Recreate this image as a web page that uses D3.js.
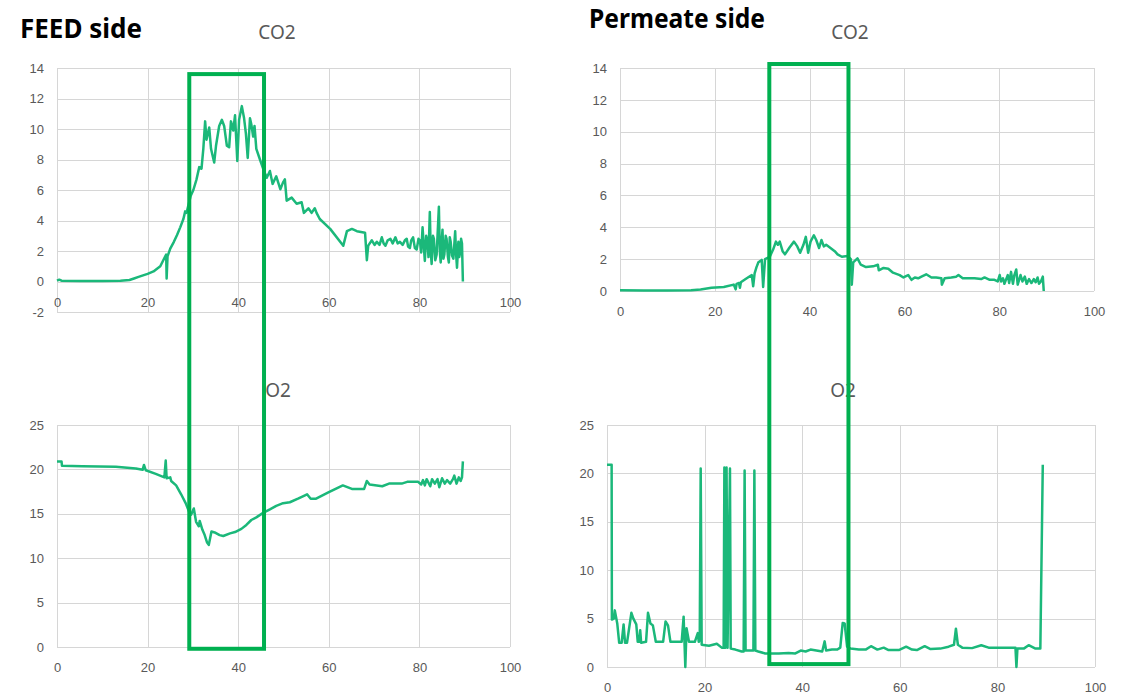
<!DOCTYPE html>
<html>
<head>
    <meta charset="UTF-8">
    <title>FEED / Permeate CO2 O2</title>
    <script src="https://d3js.org/d3.v7.min.js"></script>
    <style>
        body { margin: 0; background: #fff; }
        svg { display: block; font-family: "Noto Sans", "Open Sans", sans-serif; }
        .grid line { stroke: #d6d6d6; stroke-width: 1px; shape-rendering: crispEdges; }
        .grid .domain { display: none; }
        .tick text { fill: #595959; font-size: 13px; }
        .series { fill: none; stroke: #1bb87a; stroke-width: 2.5px; stroke-linejoin: round; }
        .box { fill: none; stroke: #00b050; stroke-width: 4px; }
        .title { fill: #595959; font-size: 19px; text-anchor: middle; }
        .side { fill: #000; font-size: 26px; font-weight: bold; }
    </style>
</head>
<body>
    <div id="chart"></div>
    <script>
        // x = time, y = concentration (%)
        const xTicks = [0, 20, 40, 60, 80, 100];
        const co2FeedTicks = [-2, 0, 2, 4, 6, 8, 10, 12, 14];
        const co2PermTicks = [0, 2, 4, 6, 8, 10, 12, 14];
        const o2Ticks = [0, 5, 10, 15, 20, 25];

        const feedCO2 = [
            [0,0.05],[0.5,0.12],[1,0.05],[5,0.03],[10,0.03],[14,0.05],[16,0.1],[17,0.2],[18,0.3],[19,0.4],
            [20,0.5],[21.3,0.66],[22.8,1.0],[24.1,1.77],[24.2,0.2],[24.4,1.65],[25,2.16],[25.8,2.6],[26.5,3.05],
            [27.2,3.55],[27.9,4.1],[28.3,4.6],[28.6,4.5],[29.5,5.6],[30.1,6.0],[30.8,6.7],[31.4,7.5],[31.9,7.4],
            [32.3,8.7],[32.7,10.5],[33.0,9.3],[33.6,10.1],[34.0,8.7],[34.7,7.8],[35.1,8.9],[35.8,10.2],[36.4,10.6],
            [36.9,10.2],[37.5,8.9],[38.0,8.8],[38.4,10.5],[38.9,9.9],[39.3,10.9],[39.8,7.9],[40.2,10.6],[40.8,11.5],
            [41.3,10.7],[41.7,9.7],[42.1,8.1],[42.6,10.7],[42.9,10.3],[43.3,9.5],[43.6,10.2],[44.0,8.7],[44.8,8.0],
            [45.5,7.4],[46.3,6.8],[47.0,7.25],[47.6,6.4],[48.4,6.9],[49.3,6.05],[49.9,6.5],[50.3,6.7],[50.7,5.3],
            [51.8,5.5],[52.9,5.1],[54.0,5.2],[54.5,4.5],[55.5,4.8],[56.2,4.5],[56.9,4.8],[57.3,4.5],[58.0,4.1],
            [60.3,3.45],[63.2,2.35],[64.0,3.3],[65.1,3.45],[66.2,3.3],[68.0,3.2],[68.4,1.4],[68.7,2.35],[69.5,2.7],
            [70.1,2.4],[70.6,2.6],[71.2,2.4],[71.7,2.9],[72.1,2.5],[72.5,2.35],[73.0,2.7],[73.6,2.8],[74.1,2.5],
            [74.7,2.9],[75.2,2.5],[75.7,2.6],[76.3,2.4],[76.8,2.7],[77.2,2.8],[77.5,2.3],[77.9,2.2],[78.2,2.7],
            [78.6,2.9],[79.0,2.2],[79.4,2.1],[79.8,2.8],[80.1,2.7],[80.4,1.9],[80.7,3.55],[81.0,2.2],[81.2,1.35],
            [81.5,3.0],[81.8,2.6],[82.0,1.6],[82.3,4.55],[82.5,2.0],[82.7,1.15],[83.0,3.0],[83.2,2.8],[83.5,1.4],
            [83.8,1.75],[84.0,3.0],[84.3,4.9],[84.5,2.0],[84.7,1.25],[84.9,2.6],[85.1,3.4],[85.3,1.5],[85.5,1.75],
            [85.8,3.0],[86.0,2.8],[86.3,1.6],[86.5,1.25],[86.7,2.9],[86.9,2.6],[87.2,1.7],[87.5,1.5],[87.7,2.4],
            [87.9,3.3],[88.1,1.8],[88.3,0.9],[88.6,2.6],[88.8,1.6],[89.0,1.9],[89.2,2.8],[89.4,2.5],[89.6,0]
        ];

        const permCO2 = [
            [0,0.05],[5,0.03],[10,0.03],[15,0.05],[17,0.1],[19.3,0.2],[21.9,0.25],[24.0,0.4],[24.4,0.1],[24.6,0.45],
            [25.1,0.5],[25.3,0.2],[25.5,0.55],[26.5,0.75],[27.8,1.0],[28.1,0.3],[28.4,1.1],[28.8,1.5],[29.2,1.8],
            [29.9,1.95],[30.2,0.25],[30.6,2.0],[31.6,2.15],[32.3,2.6],[32.9,3.1],[33.3,2.9],[33.7,3.1],[34.3,2.5],
            [34.8,2.3],[35.8,2.75],[36.7,3.1],[37.4,2.8],[38.0,2.4],[38.7,2.9],[39.2,3.4],[39.7,2.4],[40.2,3.1],
            [40.9,3.5],[41.4,3.2],[42.0,2.7],[42.5,3.2],[43.0,2.8],[43.5,2.9],[44.2,2.75],[45.3,2.5],[45.9,2.3],
            [46.8,2.15],[48.0,2.2],[48.7,2.0],[48.9,0.4],[49.2,1.8],[50.1,2.05],[50.8,1.65],[51.9,1.5],[53.4,1.55],
            [54.4,1.65],[54.6,1.3],[55.6,1.45],[56.6,1.4],[57.6,1.15],[59.0,1.0],[59.8,0.85],[60.8,1.0],[61.5,0.7],
            [62.2,0.85],[62.9,0.8],[63.6,0.9],[64.6,1.05],[65.7,0.85],[66.7,0.85],[67.8,0.8],[67.9,0.4],[68.5,0.8],
            [69.9,0.85],[70.9,0.9],[71.4,1.0],[72.3,0.8],[73.4,0.8],[74.8,0.8],[76.2,0.75],[76.9,0.85],[78.0,0.7],
            [79.0,0.7],[79.7,0.6],[80.1,1.0],[80.4,0.6],[80.8,0.8],[81.1,0.45],[81.8,1.0],[82.1,0.5],[82.5,1.2],
            [82.9,0.45],[83.2,1.0],[83.6,1.35],[83.9,0.4],[84.5,1.0],[84.9,0.6],[85.4,0.9],[85.8,0.45],[86.3,0.75],
            [86.8,0.5],[87.3,0.75],[87.7,0.55],[88.1,0.85],[88.4,0.45],[88.8,0.6],[89.2,0.9],[89.4,0]
        ];

        const feedO2 = [
            [0,20.9],[1.0,20.9],[1.1,20.4],[5.6,20.35],[13,20.3],[17.4,20.1],[18.9,19.95],[19.2,20.5],[19.6,19.9],
            [21.8,19.5],[23.7,19.1],[24.0,21.0],[24.2,19.0],[25.0,19.1],[25.2,18.7],[26.3,18.2],[27.4,17.2],
            [28.4,16.2],[29.1,15.3],[29.6,14.9],[30.2,15.6],[30.7,14.1],[31.3,13.6],[31.5,14.2],[32.1,13.2],
            [32.6,12.6],[33.1,11.8],[33.5,11.5],[34.1,13.0],[34.8,12.9],[35.9,12.6],[36.7,12.5],[38.2,12.8],
            [39.3,12.95],[40.7,13.3],[41.8,13.75],[42.9,14.3],[44.0,14.6],[45.5,15.1],[47.0,15.5],[48.4,15.9],
            [49.9,16.2],[51.4,16.3],[53.2,16.7],[54.4,17.0],[55.2,17.2],[56.0,16.7],[57.2,16.7],[59.9,17.4],
            [63.1,18.2],[65.1,17.8],[67.8,17.8],[68.4,18.7],[69.0,18.3],[71.8,18.1],[73.3,18.4],[76.1,18.4],
            [77.3,18.6],[79.7,18.6],[80.4,18.3],[80.8,18.8],[81.2,18.2],[81.6,18.9],[82.4,18.1],[82.8,18.9],
            [83.4,18.4],[84.0,18.9],[84.4,18.0],[85.0,19.0],[85.6,18.4],[86.1,18.8],[86.8,18.4],[87.4,18.9],
            [87.7,19.3],[88.2,18.4],[88.7,19.1],[89.1,18.7],[89.4,19.1],[89.6,20.9]
        ];

        const permO2 = [
            [0,20.9],[0.95,20.9],[1.0,4.9],[1.4,5.0],[1.6,5.85],[2.1,4.5],[2.5,2.5],[3.0,2.5],[3.4,4.4],[3.7,2.5],
            [4.1,2.5],[5.0,5.6],[5.4,5.0],[6.0,4.4],[6.3,2.6],[6.6,2.6],[6.8,3.8],[7.0,2.5],[8.0,2.6],[8.4,5.6],
            [8.9,4.5],[9.4,4.3],[10.0,2.6],[11.5,2.6],[12.0,4.7],[12.5,4.3],[13.0,2.6],[15.3,2.6],[15.7,5.2],
            [16.05,0],[16.3,4.0],[16.8,2.6],[18.0,2.6],[18.6,3.5],[18.8,2.6],[19.0,2.8],[19.2,20.5],[19.4,2.3],
            [20.9,2.2],[22.5,2.4],[23.5,2.0],[23.9,2.0],[24.05,20.6],[24.25,2.0],[24.5,20.6],[24.7,2.0],[25.2,20.5],
            [25.35,1.9],[26.3,1.8],[27.6,1.6],[28.0,1.6],[28.2,20.3],[28.4,1.7],[29.0,1.7],[30.0,1.7],[30.2,20.3],
            [30.4,1.7],[31.0,1.6],[32.4,1.4],[35.2,1.4],[37.2,1.45],[38.6,1.4],[39.7,1.7],[40.7,1.6],[41.7,1.8],
            [44.1,1.6],[44.6,2.65],[44.9,1.7],[46.1,1.8],[47.2,1.8],[47.8,2.0],[48.3,4.55],[48.7,4.5],[49.2,2.1],
            [49.9,1.9],[51.6,1.8],[53,1.8],[54.1,2.15],[55.4,1.8],[56.7,2.0],[57.7,1.75],[59.8,1.75],[61.3,2.1],
            [62.5,1.8],[63.5,1.75],[65.1,2.15],[66.3,1.85],[68.3,1.9],[70,2.1],[71.1,2.3],[71.5,3.95],[71.9,2.3],
            [72.8,2.0],[74.8,1.95],[76.7,2.25],[78.2,2.0],[81,2.0],[83.7,2.0],[83.9,0],[84.1,1.9],[85.4,1.9],
            [86.4,2.25],[87.8,1.9],[88.8,1.9],[89.3,20.9]
        ];

        // highlighted time windows (x in data units)
        const feedWindow = [29.2, 45.7];
        const permWindow = [31.5, 48.2];

        const width = 1124, height = 696;

        const svg = d3.select("#chart")
            .append("svg")
            .attr("width", width)
            .attr("height", height);

        const panels = [
            { name: "CO2", data: feedCO2, yTicks: co2FeedTicks, left: 57, right: 510, top: 68, bottom: 312, titleX: 277, titleY: 39 },
            { name: "CO2", data: permCO2, yTicks: co2PermTicks, left: 620, right: 1094, top: 68, bottom: 291, titleX: 850, titleY: 39 },
            { name: "O2", data: feedO2, yTicks: o2Ticks, left: 57, right: 510, top: 425, bottom: 647, titleX: 278, titleY: 397 },
            { name: "O2", data: permO2, yTicks: o2Ticks, left: 607, right: 1095, top: 425, bottom: 667, titleX: 843, titleY: 397 }
        ];

        panels.forEach(p => {
            p.x = d3.scaleLinear().domain([0, 100]).range([p.left, p.right]);
            p.y = d3.scaleLinear().domain(d3.extent(p.yTicks)).range([p.bottom, p.top]);
            const w = p.right - p.left, h = p.bottom - p.top;

            // horizontal grid + y labels (plain hyphen for -2)
            svg.append("g")
                .attr("class", "grid")
                .attr("transform", `translate(${p.left},0)`)
                .call(d3.axisLeft(p.y).tickValues(p.yTicks).tickSize(-w).tickPadding(13).tickFormat(d => String(d)));

            // vertical grid
            svg.append("g")
                .attr("class", "grid")
                .attr("transform", `translate(0,${p.bottom})`)
                .call(d3.axisBottom(p.x).tickValues(xTicks).tickSize(-h).tickFormat(""));

            // x labels sit under the zero line
            svg.append("g")
                .attr("class", "grid")
                .attr("transform", `translate(0,${p.y(0)})`)
                .call(d3.axisBottom(p.x).tickValues(xTicks).tickSize(0).tickPadding(16));

            svg.append("path")
                .datum(p.data)
                .attr("class", "series")
                .attr("d", d3.line().x(d => p.x(d[0])).y(d => p.y(d[1])));

            svg.append("text")
                .attr("class", "title")
                .attr("x", p.titleX)
                .attr("y", p.titleY)
                .text(p.name);
        });

        // green windows spanning the CO2 and O2 charts of each side
        const boxes = [
            { win: feedWindow, top: panels[0].y(13.6), bottom: panels[2].y(-0.2), x: panels[0].x },
            { win: permWindow, top: panels[1].y(14.25), bottom: panels[3].y(0.3), x: panels[1].x }
        ];
        svg.selectAll(".box")
            .data(boxes)
            .join("rect")
            .attr("class", "box")
            .attr("x", d => d.x(d.win[0]))
            .attr("width", d => d.x(d.win[1]) - d.x(d.win[0]))
            .attr("y", d => d.top)
            .attr("height", d => d.bottom - d.top);

        svg.append("text").attr("class", "side").attr("x", 20).attr("y", 38).text("FEED side");
        svg.append("text").attr("class", "side").attr("x", 589).attr("y", 28)
            .attr("textLength", 176).attr("lengthAdjust", "spacingAndGlyphs").text("Permeate side");
    </script>
</body>
</html>
